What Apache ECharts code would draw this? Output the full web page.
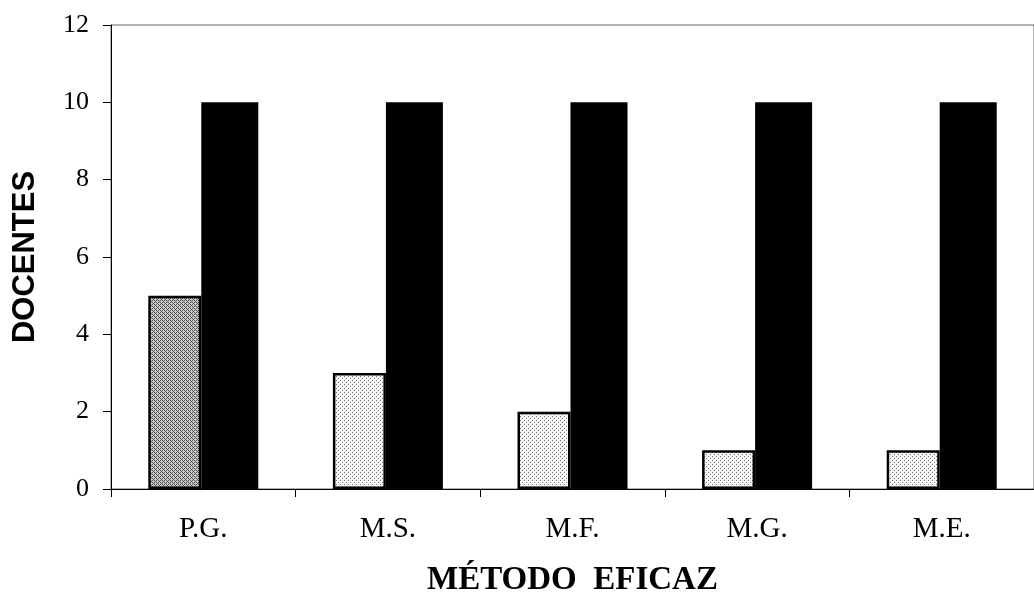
<!DOCTYPE html>
<html><head><meta charset="utf-8">
<script src="https://cdn.jsdelivr.net/npm/echarts@6/dist/echarts.min.js"></script>
<style>html,body{margin:0;padding:0;background:#fff}#c{width:1034px;height:602px}</style>
</head><body><div id="c"></div>
<script>
var categories = ['P.G.', 'M.S.', 'M.F.', 'M.G.', 'M.E.'];
var seriesA = [5, 3, 2, 1, 1];
var seriesB = [10, 10, 10, 10, 10];
var yTicks = {min: 0, max: 12, interval: 2};

function makePattern(bg, dot, dense) {
  var c = document.createElement('canvas');
  c.width = 4; c.height = 4;
  var g = c.getContext('2d');
  g.fillStyle = bg; g.fillRect(0, 0, 4, 4);
  g.fillStyle = dot;
  g.fillRect(0, 0, 1, 1); g.fillRect(2, 2, 1, 1);
  if (dense) { g.fillRect(2, 0, 1, 1); g.fillRect(0, 2, 1, 1); g.fillRect(1, 3, 1, 1); g.fillRect(3, 1, 1, 1); }
  return {image: c, repeat: 'repeat'};
}
var darkPat = makePattern('#c8c8c8', '#555', true);
var lightPat = makePattern('#f4f4f4', '#777', false);

var chart = echarts.init(document.getElementById('c'));
chart.setOption({
  animation: false,
  grid: {left: 111, top: 25, width: 925, height: 466, show: true, borderColor: '#666', borderWidth: 1},
  xAxis: {
    type: 'category', data: categories,
    name: 'MÉTODO  EFICAZ', nameLocation: 'middle', nameGap: 75,
    nameTextStyle: {fontFamily: 'Liberation Serif', fontWeight: 'bold', fontSize: 33, color: '#000'},
    axisLine: {lineStyle: {color: '#000', width: 1}},
    axisTick: {show: true, length: 8, lineStyle: {color: '#000'}},
    axisLabel: {fontFamily: 'Liberation Serif', fontSize: 29, color: '#000', margin: 26}
  },
  yAxis: {
    type: 'value', min: yTicks.min, max: yTicks.max, interval: yTicks.interval,
    name: 'DOCENTES', nameLocation: 'middle', nameGap: 70, nameRotate: 90,
    nameTextStyle: {fontFamily: 'Liberation Sans', fontWeight: 'bold', fontSize: 31, color: '#000'},
    axisLine: {show: true, lineStyle: {color: '#000', width: 1}},
    axisTick: {show: true, length: 8, lineStyle: {color: '#000'}},
    splitLine: {show: false},
    axisLabel: {fontFamily: 'Liberation Serif', fontSize: 26, color: '#000', margin: 22}
  },
  series: [
    {type: 'bar', barWidth: 53, barGap: '0%',
     data: seriesA.map(function (v, i) { return {value: v, itemStyle: {color: i === 0 ? darkPat : lightPat}}; }),
     itemStyle: {borderColor: '#000', borderWidth: 2.5}},
    {type: 'bar', barWidth: 57, barGap: '0%', data: seriesB,
     itemStyle: {color: '#000'}}
  ]
});
</script></body></html>
